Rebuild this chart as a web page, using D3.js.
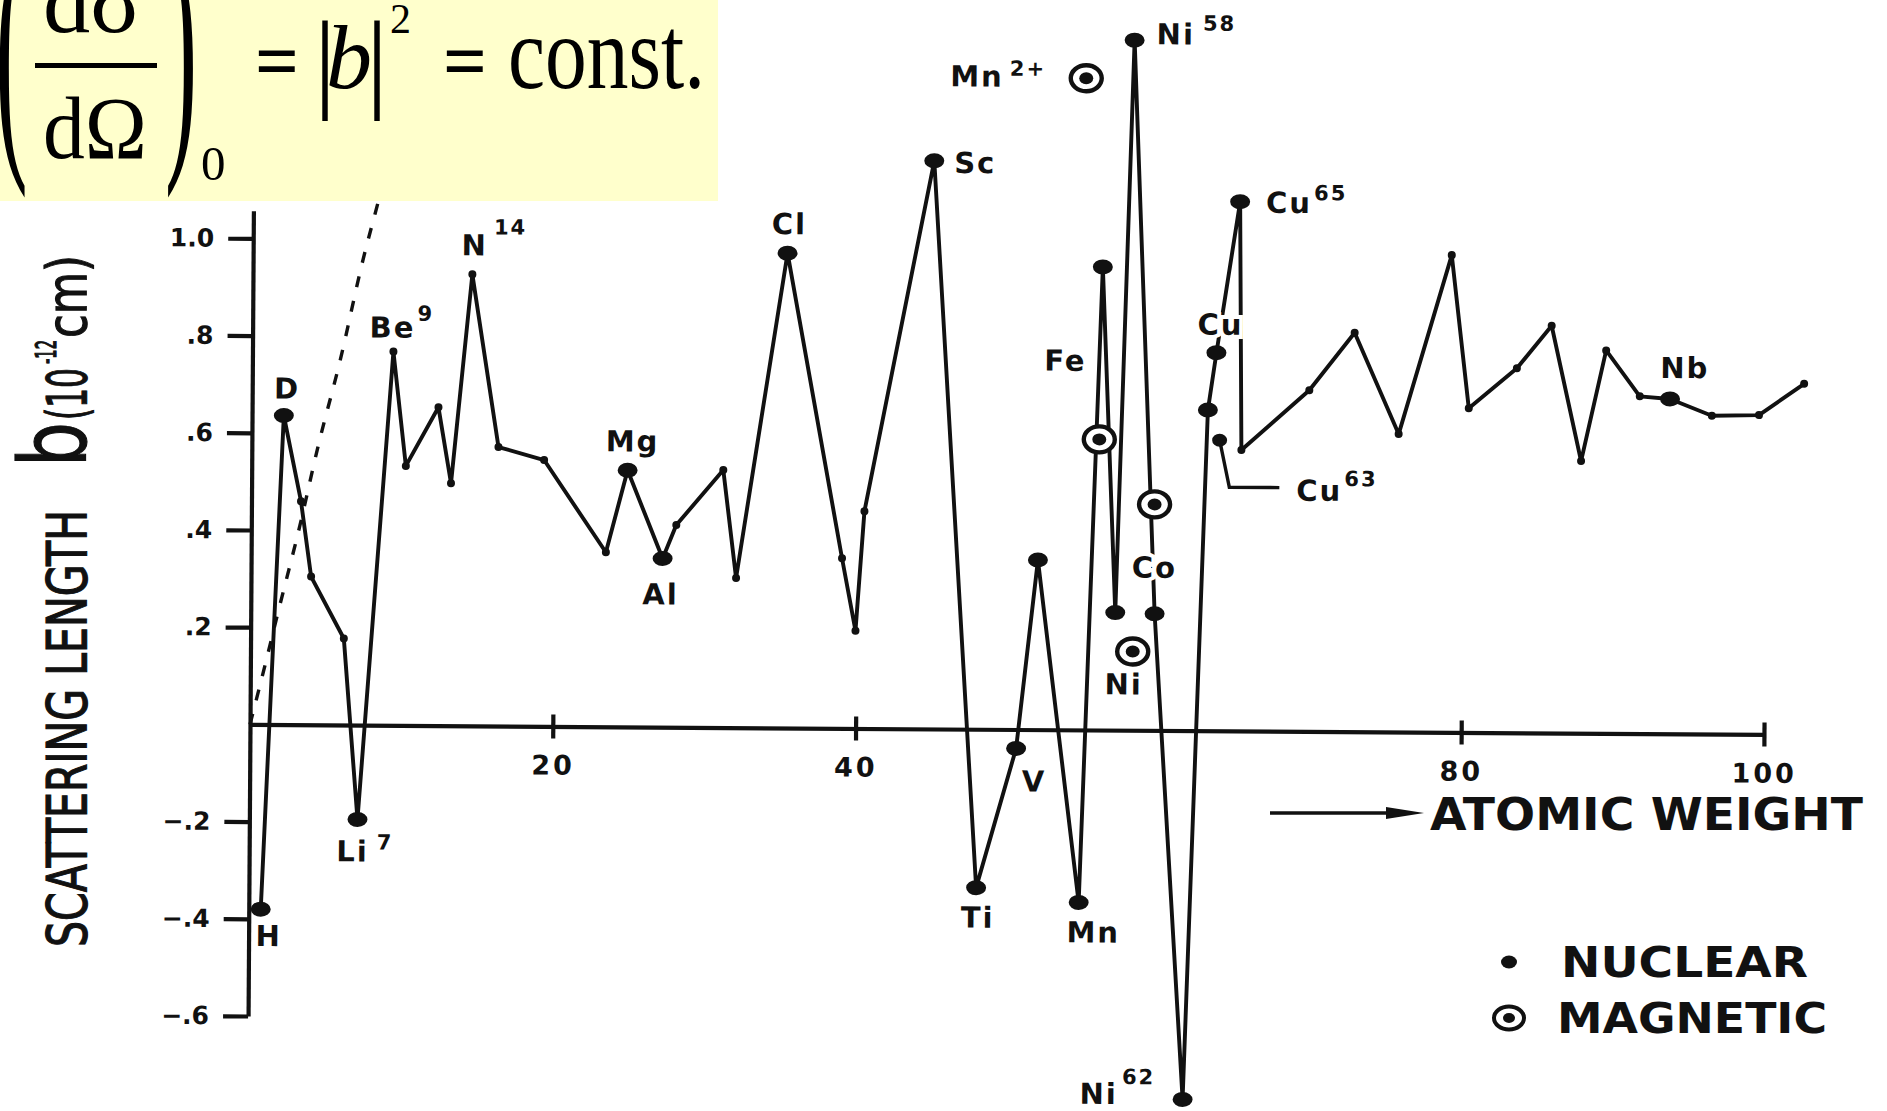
<!DOCTYPE html>
<html>
<head>
<meta charset="utf-8">
<script src="https://cdn.jsdelivr.net/npm/d3@7"></script>
<style>
  body { margin: 0; background: #fff; }
  svg { display: block; }
</style>
</head>
<body>
<div id="chart"></div>
<script>
// nuclear scattering lengths (10^-12 cm) along the connected curve, vs atomic weight
const lineWeights = [0.79, 2.1, 3.27, 3.97, 6.16, 7.14, 9.31, 10.18, 12.31, 13.17, 14.49, 16.29, 19.31, 23.43,
  24.83, 27.18, 28.07, 31.15, 32.04, 35.3, 39.03, 39.95, 40.49, 44.95, 48.03, 50.61, 51.97, 54.81, 56.13, 57.1,
  58.13, 59.7, 61.76, 63.13, 63.67, 65.17, 65.36, 69.82, 72.79, 75.74, 79.17, 80.36, 83.52, 85.8, 87.8, 89.41,
  91.65, 93.65, 96.42, 99.53, 102.5];
const lineLengths = [-0.38, 0.636, 0.46, 0.305, 0.178, -0.194, 0.769, 0.534, 0.655, 0.499, 0.929, 0.574, 0.548, 0.359,
  0.528, 0.347, 0.416, 0.53, 0.308, 0.977, 0.35, 0.201, 0.447, 1.169, -0.326, -0.039, 0.349, -0.355, 0.953, 0.242,
  1.42, 0.24, -0.759, 0.66, 0.778, 1.089, 0.578, 0.702, 0.821, 0.613, 0.982, 0.667, 0.75, 0.838, 0.56, 0.788,
  0.694, 0.689, 0.655, 0.657, 0.722];
// 1 = measured isotope drawn with a full dot, 0 = plain vertex
const lineMeasured = [1, 1, 0, 0, 0, 1, 0, 0, 0, 0, 0, 0, 0, 0,
  1, 1, 0, 0, 0, 1, 0, 0, 0, 1, 1, 1, 1, 1, 1, 1,
  1, 1, 1, 1, 1, 1, 0, 0, 0, 0, 0, 0, 0, 0, 0, 0,
  0, 1, 0, 0, 0];

// labelled isotopes: index into the line arrays, symbol, mass number
const isotopeIndex = [0, 1, 5, 6, 10, 14, 15, 19, 23, 24, 25, 27, 28, 30, 31, 32, 34, 35, 47];
const isotopeNames = ["H", "D", "Li", "Be", "N", "Mg", "Al", "Cl", "Sc", "Ti", "V", "Mn", "Fe", "Ni", "Co", "Ni", "Cu", "Cu", "Nb"];
const isotopeMass = ["", "", "7", "9", "14", "", "", "", "", "", "", "", "", "58", "", "62", "", "65", ""];

// Cu63 point (shown apart, with a leader)
const cu63Weight = 63.92;
const cu63Length = 0.598;

// magnetic scattering lengths
const magneticNames = ["Mn", "Fe", "Co", "Ni"];
const magneticWeights = [54.95, 55.97, 59.65, 58.27];
const magneticLengths = [1.341, 0.598, 0.465, 0.162];

// dashed curve from the origin
const dashWeights = [0, 0.99, 1.82, 3.21, 4.39, 5.78, 7.28, 8.24, 9.3];
const dashLengths = [0, 0.125, 0.233, 0.41, 0.575, 0.748, 0.96, 1.077, 1.21];

const yTicks = [-0.6, -0.4, -0.2, 0.2, 0.4, 0.6, 0.8, 1.0];
const yTickLabels = ["\u2212.6", "\u2212.4", "\u2212.2", ".2", ".4", ".6", ".8", "1.0"];
const xTicks = [20, 40, 80, 100];
const xTickLabels = ["20", "40", "80", "100"];

const width = 1887;
const height = 1111;
const ink = "#111";
const sans = '"DejaVu Sans", sans-serif';
const serif = '"Liberation Serif", "Times New Roman", serif';

const svg = d3.select("#chart").append("svg")
  .attr("width", width)
  .attr("height", height)

const x = d3.scaleLinear().domain([0, 100]).range([250, 1764])
const y = d3.scaleLinear().domain([-0.6, 1.057]).range([1016, 210.7])

// the scanned figure sits slightly rotated
const plot = svg.append("g")
  .attr("transform", `rotate(0.38,${x(0)},${y(0)})`)

const yAxis = d3.axisLeft(y)
  .tickValues(yTicks)
  .tickFormat((d, i) => yTickLabels[i])
  .tickSize(25)
  .tickPadding(14)
  .tickSizeOuter(0)
const gy = plot.append("g")
  .attr("transform", `translate(${x(0)},0)`)
  .call(yAxis)

const xAxis = d3.axisBottom(x)
  .tickValues(xTicks)
  .tickFormat((d, i) => xTickLabels[i])
  .tickSize(12)
  .tickPadding(17)
  .tickSizeOuter(0)
const gx = plot.append("g")
  .attr("transform", `translate(0,${y(0)})`)
  .call(xAxis)
gx.selectAll(".tick line").attr("y1", -12)

for (const g of [gx, gy]) {
  g.select(".domain").attr("stroke", ink).attr("stroke-width", 4.2)
  g.selectAll(".tick line").attr("stroke", ink).attr("stroke-width", 4.2)
  g.selectAll(".tick text")
    .attr("fill", ink)
    .style("font-family", sans)
    .style("font-weight", "bold")
}
gy.selectAll(".tick text").style("font-size", "25px")
gx.selectAll(".tick text").style("font-size", "27px").style("letter-spacing", "3px")

// dashed curve
plot.append("path")
  .datum(dashWeights.map((w, i) => [w, dashLengths[i]]))
  .attr("fill", "none")
  .attr("stroke", ink)
  .attr("stroke-width", 3.4)
  .attr("stroke-dasharray", "11 14")
  .attr("d", d3.line().x(d => x(d[0])).y(d => y(d[1])).curve(d3.curveMonotoneX))

// nuclear curve
const points = lineWeights.map((w, i) => ({w, b: lineLengths[i], m: lineMeasured[i]}))
plot.append("path")
  .datum(points)
  .attr("fill", "none")
  .attr("stroke", ink)
  .attr("stroke-width", 3.9)
  .attr("stroke-linejoin", "round")
  .attr("d", d3.line().x(d => x(d.w)).y(d => y(d.b)))

plot.selectAll(".vertex")
  .data(points.filter(d => !d.m))
  .enter()
  .append("circle")
  .attr("class", "vertex")
  .attr("cx", d => x(d.w))
  .attr("cy", d => y(d.b))
  .attr("r", 4)
  .attr("fill", ink)

plot.selectAll(".nuclear")
  .data(points.filter(d => d.m))
  .enter()
  .append("ellipse")
  .attr("class", "nuclear")
  .attr("cx", d => x(d.w))
  .attr("cy", d => y(d.b))
  .attr("rx", 10)
  .attr("ry", 7.5)
  .attr("fill", ink)

// Cu63 with its leader
const cx63 = x(cu63Weight), cy63 = y(cu63Length)
plot.append("path")
  .attr("d", `M${cx63},${cy63}L${cx63 + 10},${cy63 + 47}H${cx63 + 60}`)
  .attr("fill", "none")
  .attr("stroke", ink)
  .attr("stroke-width", 3.4)
plot.append("ellipse")
  .attr("cx", cx63).attr("cy", cy63)
  .attr("rx", 7.5).attr("ry", 6.5)
  .attr("fill", ink)

// magnetic points
const mags = magneticWeights.map((w, i) => ({w, b: magneticLengths[i], name: magneticNames[i]}))
const mg = plot.selectAll(".magnetic")
  .data(mags)
  .enter()
  .append("g")
  .attr("class", "magnetic")
  .attr("transform", d => `translate(${x(d.w)},${y(d.b)})`)
mg.append("ellipse").attr("rx", 15.5).attr("ry", 13)
  .attr("fill", "#fff").attr("stroke", ink).attr("stroke-width", 4.4)
mg.append("ellipse").attr("rx", 7).attr("ry", 6).attr("fill", ink)

// labels
function label(px, py, name, sup, dx, dy, supDx, supDy) {
  const t = plot.append("text")
    .attr("x", px + dx)
    .attr("y", py + dy)
    .attr("fill", ink)
    .attr("stroke", "#fff")
    .attr("stroke-width", 8)
    .attr("paint-order", "stroke")
    .style("font-family", sans)
    .style("font-weight", "bold")
    .style("font-size", "29px")
    .style("letter-spacing", "2px")
  t.append("tspan").text(name)
  if (sup) {
    t.append("tspan")
      .attr("dx", supDx)
      .attr("dy", supDy)
      .style("font-size", "21px")
      .text(sup)
  }
}

const isoOffsets = {
  H: [-5, 37], D: [-10, -17], Li: [-21, 42, 8, -12], Be: [-24, -14, 2, -17], N: [-11, -19, 6, -21],
  Mg: [-22, -19], Al: [-20, 46], Cl: [-16, -19], Sc: [20, 12], Ti: [-15, 40], V: [6, 43], Mn: [-12, 40],
  Fe: [-58, 104], Ni58: [22, 4, 8, -14], Co: [-23, -36], Ni62: [-103, 5, 4, -20], Cu: [-19, -18],
  Cu65: [26, 11, 2, -13], Nb: [-10, -21]
}
isotopeIndex.forEach((idx, i) => {
  const key = isotopeNames[i] === "Ni" || isotopeNames[i] === "Cu" && isotopeMass[i] ? isotopeNames[i] + isotopeMass[i] : isotopeNames[i]
  const o = isoOffsets[key]
  label(x(lineWeights[idx]), y(lineLengths[idx]), isotopeNames[i], isotopeMass[i], o[0], o[1], o[2], o[3])
})
label(cx63, cy63, "Cu", "63", 77, 60, 2, -15)
label(x(magneticWeights[0]), y(magneticLengths[0]), "Mn", "2+", -136, 9, 6, -11)
label(x(magneticWeights[3]), y(magneticLengths[3]), "Ni", "", -28, 43)

// axis titles
svg.append("text")
  .attr("transform", "translate(86,947) rotate(-90)")
  .attr("textLength", 437)
  .attr("lengthAdjust", "spacingAndGlyphs")
  .attr("fill", ink)
  .attr("stroke", ink)
  .attr("stroke-width", 1.2)
  .style("font-family", sans)
  .style("font-size", "56px")
  .text("SCATTERING LENGTH")
const yTitle = [
  {t: "b", at: 467, x: 86, size: 92, len: 45},
  {t: "(10", at: 420, x: 86, size: 56, len: 52},
  {t: "-12", at: 364, x: 56, size: 28, len: 24},
  {t: "cm)", at: 338, x: 86, size: 56, len: 83}
]
yTitle.forEach(p => {
  svg.append("text")
    .attr("transform", `translate(${p.x},${p.at}) rotate(-90)`)
    .attr("textLength", p.len)
    .attr("lengthAdjust", "spacingAndGlyphs")
    .attr("fill", ink)
    .attr("stroke", ink)
    .attr("stroke-width", 1.2)
    .style("font-family", sans)
    .style("font-size", p.size + "px")
    .text(p.t)
})

svg.append("path")
  .attr("d", "M1270,813H1392")
  .attr("stroke", ink)
  .attr("stroke-width", 3.4)
svg.append("path")
  .attr("d", "M1386,807L1424,813L1386,819Z")
  .attr("fill", ink)
svg.append("text")
  .attr("x", 1430).attr("y", 830)
  .attr("textLength", 433)
  .attr("lengthAdjust", "spacingAndGlyphs")
  .attr("fill", ink)
  .style("font-family", sans)
  .style("font-weight", "bold")
  .style("font-size", "44px")
  .text("ATOMIC WEIGHT")

// legend
svg.append("ellipse").attr("cx", 1509).attr("cy", 962).attr("rx", 8).attr("ry", 6.5).attr("fill", ink)
svg.append("ellipse").attr("cx", 1509).attr("cy", 1018).attr("rx", 15).attr("ry", 11.5)
  .attr("fill", "#fff").attr("stroke", ink).attr("stroke-width", 4)
svg.append("ellipse").attr("cx", 1509).attr("cy", 1018).attr("rx", 6).attr("ry", 5).attr("fill", ink)
const legendText = [["NUCLEAR", 1561, 977, 247], ["MAGNETIC", 1557, 1033, 270]]
legendText.forEach(([t, lx, ly, len]) => {
  svg.append("text")
    .attr("x", lx).attr("y", ly)
    .attr("textLength", len)
    .attr("lengthAdjust", "spacingAndGlyphs")
    .attr("fill", ink)
    .style("font-family", sans)
    .style("font-weight", "bold")
    .style("font-size", "43px")
    .text(t)
})

// formula box
const box = svg.append("g")
box.append("rect")
  .attr("x", 0).attr("y", 0)
  .attr("width", 718).attr("height", 201)
  .attr("fill", "#ffffcc")

function ftext(str, tx, ty, size, opts = {}) {
  const t = box.append("text")
    .attr("fill", "#000")
    .style("font-family", serif)
    .style("font-size", size + "px")
    .style("font-style", opts.italic ? "italic" : "normal")
    .style("font-weight", opts.bold ? "bold" : "normal")
    .text(str)
  if (opts.sx) {
    t.attr("transform", `translate(${tx},${ty}) scale(${opts.sx},1)`)
  } else {
    t.attr("x", tx).attr("y", ty)
  }
  if (opts.len) t.attr("textLength", opts.len).attr("lengthAdjust", "spacingAndGlyphs")
  return t
}

ftext("(", -4.5, 137, 284, {sx: 0.34})
ftext(")", 165, 137, 284, {sx: 0.34})
ftext("d\u03c3", 43, 32, 89, {len: 98})
box.append("line")
  .attr("x1", 35).attr("x2", 157)
  .attr("y1", 65.5).attr("y2", 65.5)
  .attr("stroke", "#000").attr("stroke-width", 5)
ftext("d\u03a9", 43, 158, 89, {len: 104})
ftext("0", 201, 180, 49)
ftext("=", 255, 88, 80, {bold: true, len: 44})
ftext("|", 314, 98, 110)
ftext("b", 326, 88, 92, {italic: true})
ftext("|", 366, 98, 110)
ftext("2", 390, 33, 42)
ftext("=", 443, 88, 80, {bold: true, len: 44})
ftext("const.", 508, 88, 103, {len: 197})
</script>
</body>
</html>
